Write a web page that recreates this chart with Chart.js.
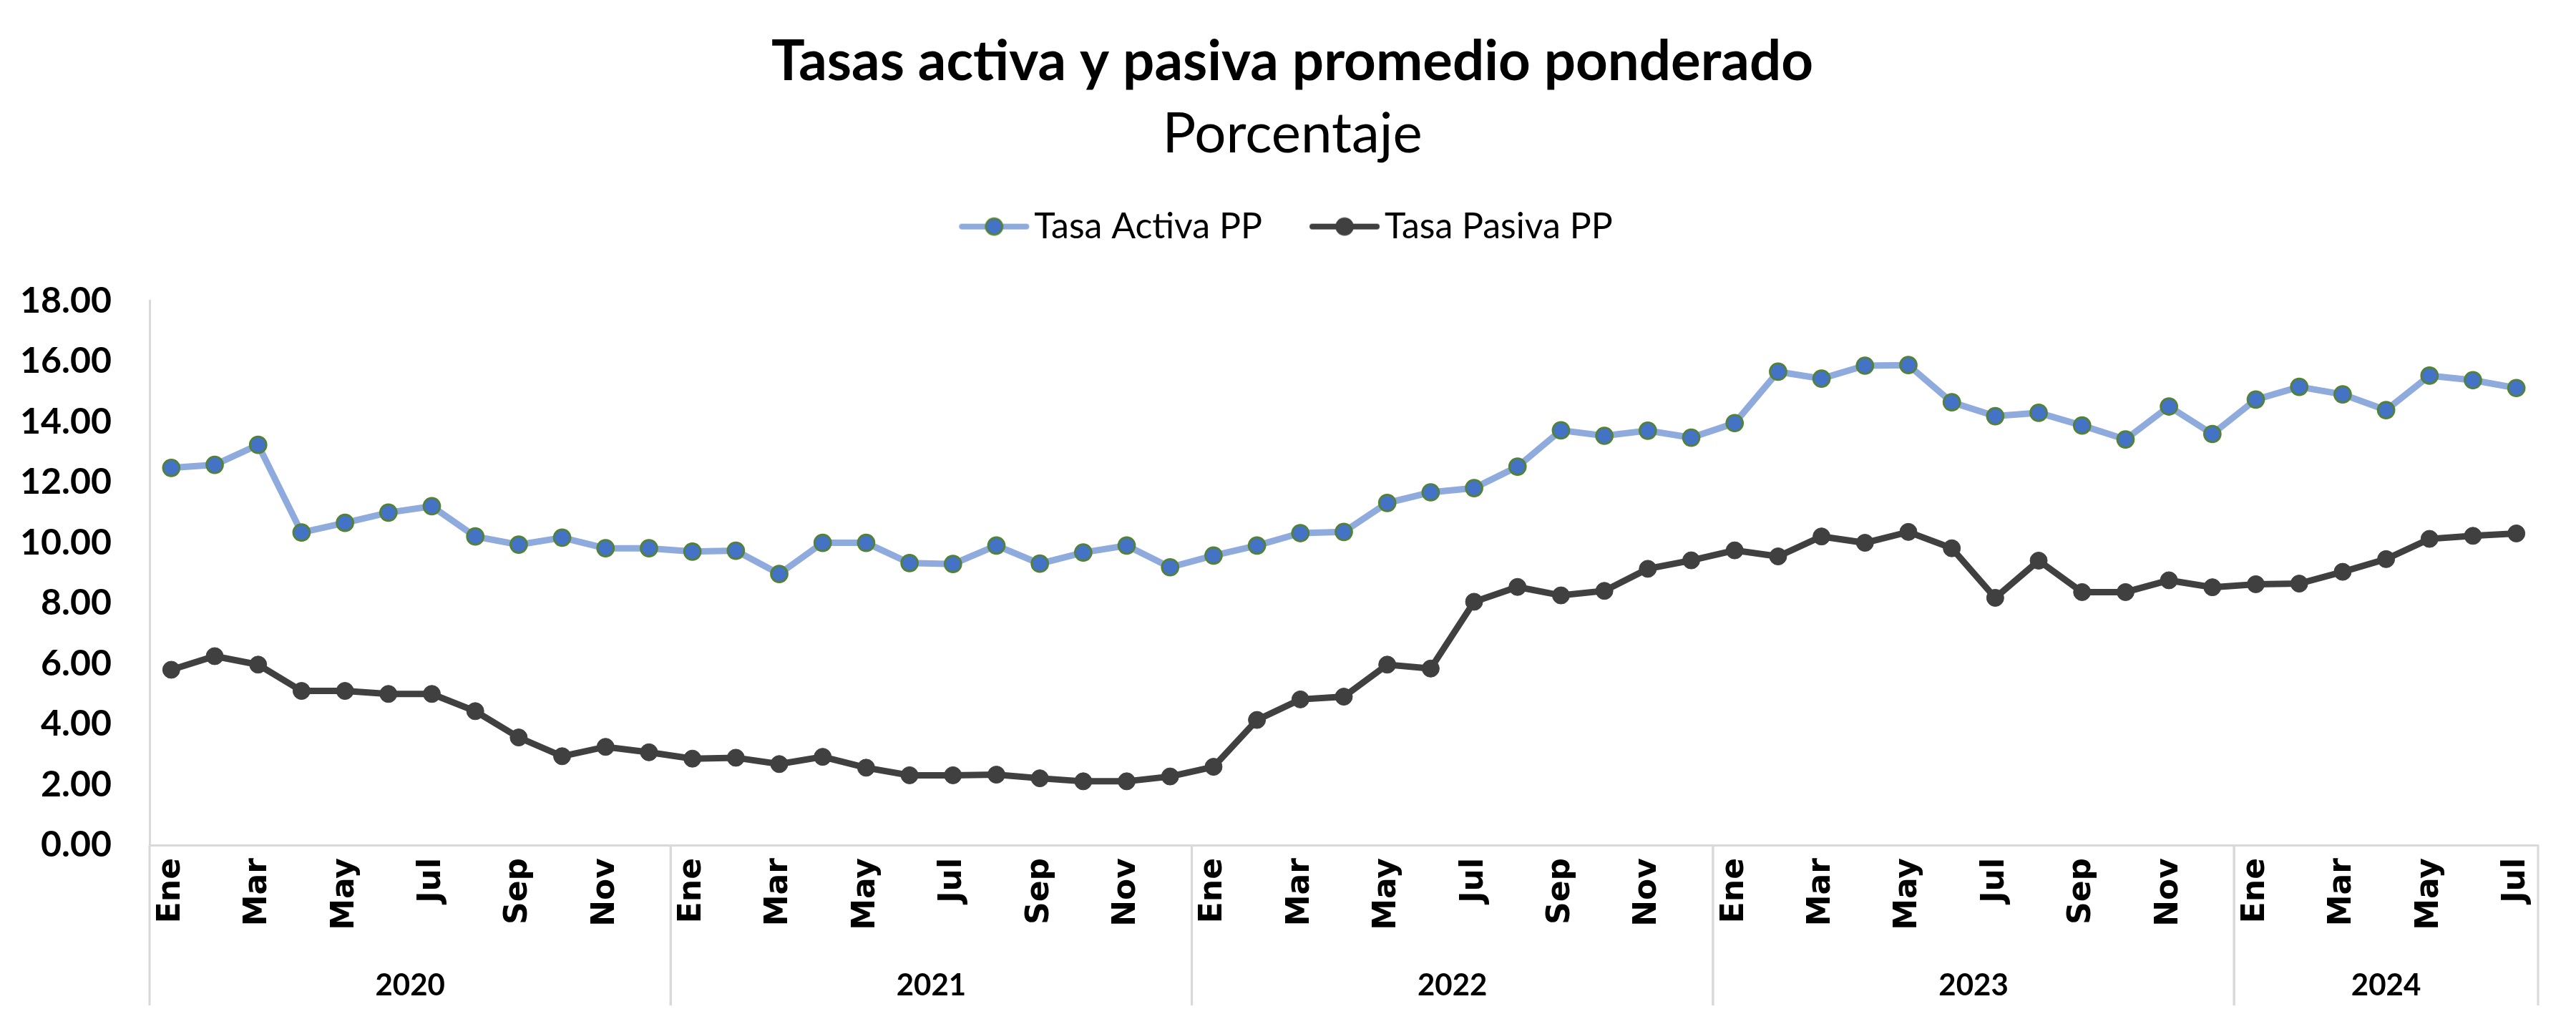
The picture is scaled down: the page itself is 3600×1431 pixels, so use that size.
<!DOCTYPE html>
<html>
<head>
<meta charset="utf-8">
<script src="https://cdn.jsdelivr.net/npm/chart.js@4.4.1/dist/chart.umd.min.js"></script>
<style>
  body { margin: 0; background: #fff; }
  #wrap { width: 3600px; height: 1431px; position: relative; }
</style>
</head>
<body>
<div id="wrap"><canvas id="tasasChart"></canvas></div>
<script>
const years = ['2020', '2021', '2022', '2023', '2024'];
const monthsPerYear = [12, 12, 12, 12, 7];
const months = ['Ene', 'Feb', 'Mar', 'Abr', 'May', 'Jun', 'Jul', 'Ago', 'Sep', 'Oct', 'Nov', 'Dic'];
const yTicks = [0, 2, 4, 6, 8, 10, 12, 14, 16, 18];

const tasaActiva = [12.48, 12.58, 13.24, 10.34, 10.66, 11.00, 11.21, 10.21, 9.94, 10.17, 9.82, 9.82,
  9.71, 9.74, 8.97, 10.00, 10.00, 9.33, 9.30, 9.91, 9.31, 9.68, 9.91, 9.19,
  9.58, 9.91, 10.32, 10.36, 11.32, 11.67, 11.81, 12.52, 13.72, 13.54, 13.71, 13.48,
  13.96, 15.66, 15.43, 15.86, 15.88, 14.65, 14.19, 14.30, 13.88, 13.42, 14.51, 13.60,
  14.74, 15.16, 14.91, 14.39, 15.53, 15.38, 15.12];

const tasaPasiva = [5.80, 6.25, 5.97, 5.10, 5.10, 5.00, 5.00, 4.43, 3.56, 2.94, 3.25, 3.07,
  2.86, 2.89, 2.68, 2.92, 2.56, 2.31, 2.31, 2.33, 2.21, 2.11, 2.11, 2.27,
  2.59, 4.14, 4.82, 4.91, 5.97, 5.84, 8.05, 8.54, 8.26, 8.41, 9.14, 9.42,
  9.75, 9.55, 10.21, 10.00, 10.36, 9.82, 8.18, 9.41, 8.37, 8.37, 8.76, 8.53,
  8.63, 8.65, 9.04, 9.46, 10.13, 10.23, 10.31];

let labels = [];
years.forEach((y, k) => {
  months.slice(0, monthsPerYear[k]).forEach(m => labels.push(m));
});

// little line + dot for the legend, like the excel one
let legendMark = function(lineColor, fill, border) {
  const c = document.createElement('canvas');
  c.width = 100; c.height = 30;
  const g = c.getContext('2d');
  g.strokeStyle = lineColor; g.lineWidth = 8; g.lineCap = 'round';
  g.beginPath(); g.moveTo(5, 15); g.lineTo(95, 15); g.stroke();
  g.beginPath(); g.arc(50, 15, 11.5, 0, Math.PI * 2);
  g.fillStyle = fill; g.fill();
  g.lineWidth = 2.7; g.strokeStyle = border; g.stroke();
  return c;
};

// year row under the months, with the grey separators
const yearGroups = {
  id: 'yearGroups',
  afterDraw(chart) {
    const x = chart.scales.x, ctx = chart.ctx;
    const step = x.getPixelForValue(1) - x.getPixelForValue(0);
    const top = chart.chartArea.bottom;
    let start = 0;
    ctx.save();
    ctx.strokeStyle = '#D9D9D9';
    ctx.lineWidth = 3;
    ctx.fillStyle = '#000';
    ctx.font = 'bold 42px Lato';
    ctx.textAlign = 'center';
    ctx.textBaseline = 'middle';
    years.forEach((yr, k) => {
      const n = monthsPerYear[k];
      const left = x.getPixelForValue(start) - step / 2;
      const right = x.getPixelForValue(start + n - 1) + step / 2;
      [left, right].forEach(px => {
        ctx.beginPath(); ctx.moveTo(px, top); ctx.lineTo(px, 1405); ctx.stroke();
      });
      ctx.fillText(yr, (left + right) / 2, 1377);
      start += n;
    });
    ctx.restore();
  }
};

let draw = function() {
  new Chart('tasasChart', {
    type: 'line',
    data: {
      labels: labels,
      datasets: [{
        label: 'Tasa Activa PP',
        data: tasaActiva,
        xAxisID: 'x',
        yAxisID: 'y',
        borderColor: '#8FAADC',
        borderWidth: 9,
        pointRadius: 11.5,
        pointBorderWidth: 2.7,
        pointBackgroundColor: '#4472C4',
        pointBorderColor: '#548235',
        tension: 0
      },
      {
        label: 'Tasa Pasiva PP',
        data: tasaPasiva,
        xAxisID: 'x',
        yAxisID: 'y',
        borderColor: '#404040',
        borderWidth: 9,
        pointRadius: 12,
        pointBorderWidth: 1,
        pointBackgroundColor: '#404040',
        pointBorderColor: '#404040',
        tension: 0
      }]
    },
    options: {
      responsive: true,
      maintainAspectRatio: false,
      animation: false,
      layout: { padding: { left: 12, right: 0, top: 0, bottom: 0 } },
      scales: {
        x: {
          offset: true,
          grid: { display: false, drawTicks: false },
          border: { display: true, color: '#D9D9D9', width: 3 },
          ticks: {
            autoSkip: false,
            minRotation: 90,
            maxRotation: 90,
            padding: 18,
            color: '#000',
            font: { family: 'DejaVu Sans', weight: 'bold', size: 44 },
            callback: function(v, i) { return i % 2 === 0 ? this.getLabelForValue(v) : ''; }
          },
          afterFit: function(s) { s.height = 250; }
        },
        y: {
          min: 0,
          max: 18,
          grid: { display: false, drawTicks: false },
          border: { display: true, color: '#D9D9D9', width: 3 },
          afterBuildTicks: function(s) { s.ticks = yTicks.map(v => ({ value: v })); },
          ticks: {
            padding: 53,
            color: '#000',
            font: { family: 'Lato', weight: 'bold', size: 50 },
            callback: v => v.toFixed(2)
          },
          afterFit: function(s) { s.width = 197; }
        },
        // empty boxes only used for spacing
        x2: {
          type: 'category',
          position: 'top',
          labels: [''],
          grid: { display: false, drawTicks: false },
          border: { display: false },
          ticks: { display: false },
          afterFit: function(s) { s.height = 69; }
        },
        y2: {
          type: 'linear',
          position: 'right',
          grid: { display: false, drawTicks: false },
          border: { display: false },
          ticks: { display: false },
          afterFit: function(s) { s.width = 53; }
        }
      },
      plugins: {
        title: {
          display: true,
          text: 'Tasas activa y pasiva promedio ponderado',
          color: '#000',
          font: { family: 'Lato', weight: 'bold', size: 78, lineHeight: 1.2 },
          padding: { top: 40, bottom: 0 }
        },
        subtitle: {
          display: true,
          text: 'Porcentaje',
          color: '#000',
          font: { family: 'Lato', size: 78, lineHeight: 0.5 },
          padding: { top: 35, bottom: 0 }
        },
        legend: {
          display: true,
          position: 'top',
          labels: {
            usePointStyle: true,
            pointStyleWidth: 62,
            padding: 84,
            color: '#000',
            font: { family: 'Lato', size: 50 },
            generateLabels: function(chart) {
              return chart.data.datasets.map((ds, i) => ({
                text: ds.label,
                datasetIndex: i,
                pointStyle: legendMark(ds.borderColor, ds.pointBackgroundColor, ds.pointBorderColor),
                fillStyle: 'transparent',
                strokeStyle: 'transparent',
                lineWidth: 0,
                fontColor: '#000',
                hidden: false
              }));
            }
          }
        },
        tooltip: { enabled: false }
      }
    },
    plugins: [yearGroups]
  });
};

if (document.fonts && document.fonts.load) {
  Promise.all([
    document.fonts.load('bold 78px Lato'),
    document.fonts.load('78px Lato'),
    document.fonts.load('bold 44px "DejaVu Sans"')
  ]).then(draw, draw);
} else {
  draw();
}
</script>
</body>
</html>
